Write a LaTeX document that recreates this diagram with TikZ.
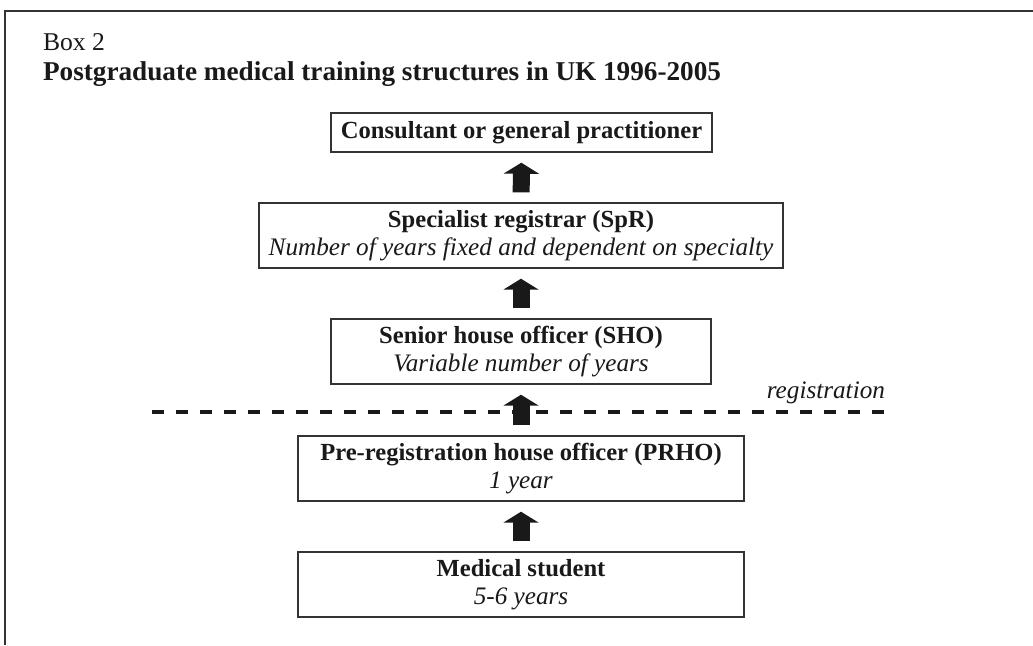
\documentclass[tikz,border=0pt]{standalone}
\usepackage{fontspec}
\setmainfont{Liberation Serif}
\usetikzlibrary{arrows.meta}
\newcommand\stagename[1]{{\fontsize{12.3}{14.2}\selectfont\bfseries #1}}

\begin{document}
\begin{tikzpicture}[x=0.5pt, y=-0.5pt,
  stage/.style={draw=black!80, line width=0.7pt, align=center, inner sep=0pt,
    minimum height=32.5pt, text=black!90, font=\fontsize{12.6}{14.2}\selectfont},
  up/.style={line width=8.5pt, black!90, -{Triangle[width=17.5pt, length=5.5pt]},
    shorten <=5pt, shorten >=5pt},
  head/.style={anchor=base west, text=black!90, font=\fontsize{12.8}{14}\selectfont}]

\useasboundingbox (0,0) rectangle (1033,645);
\draw[black!80, line width=1pt] (1033,11) -- (5,11) -- (5,645);

\node[head] (boxno) at (36,50) {Box 2};
\node[head, font=\fontsize{13.6}{14}\selectfont\bfseries] (title) at (36,80) {Postgraduate medical training structures in UK 1996-2005};

\node[stage, minimum width=190.5pt, minimum height=19.5pt] (cons) at (521.5,132.5) {\stagename{Consultant or general practitioner}};
\node[stage, minimum width=262pt] (spr) at (521,235.5) {\stagename{Specialist registrar (SpR)}\\\textit{Number of years fixed and dependent on specialty}};
\node[stage, minimum width=190pt] (sho) at (521,351.5) {\stagename{Senior house officer (SHO)}\\\textit{Variable number of years}};
\node[stage, minimum width=223pt] (prho) at (521,468.5) {\stagename{Pre-registration house officer (PRHO)}\\\textit{1 year}};
\node[stage, minimum width=223pt] (med) at (521,584.5) {\stagename{Medical student}\\\textit{5-6 years}};

\coordinate (regL) at (152,412);
\coordinate (regR) at (885,412);
\draw[black!90, line width=2pt, dash pattern=on 6pt off 6pt] (regL) -- (regR);
\node[anchor=base east, text=black!90, font=\fontsize{12.6}{14}\selectfont\itshape] (reg) at (892,398) {registration};

\draw[up] (med) -- (prho);
\draw[up] (prho) -- (sho);
\draw[up] (sho) -- (spr);
\draw[up] (spr) -- (cons);

\end{tikzpicture}
\end{document}
